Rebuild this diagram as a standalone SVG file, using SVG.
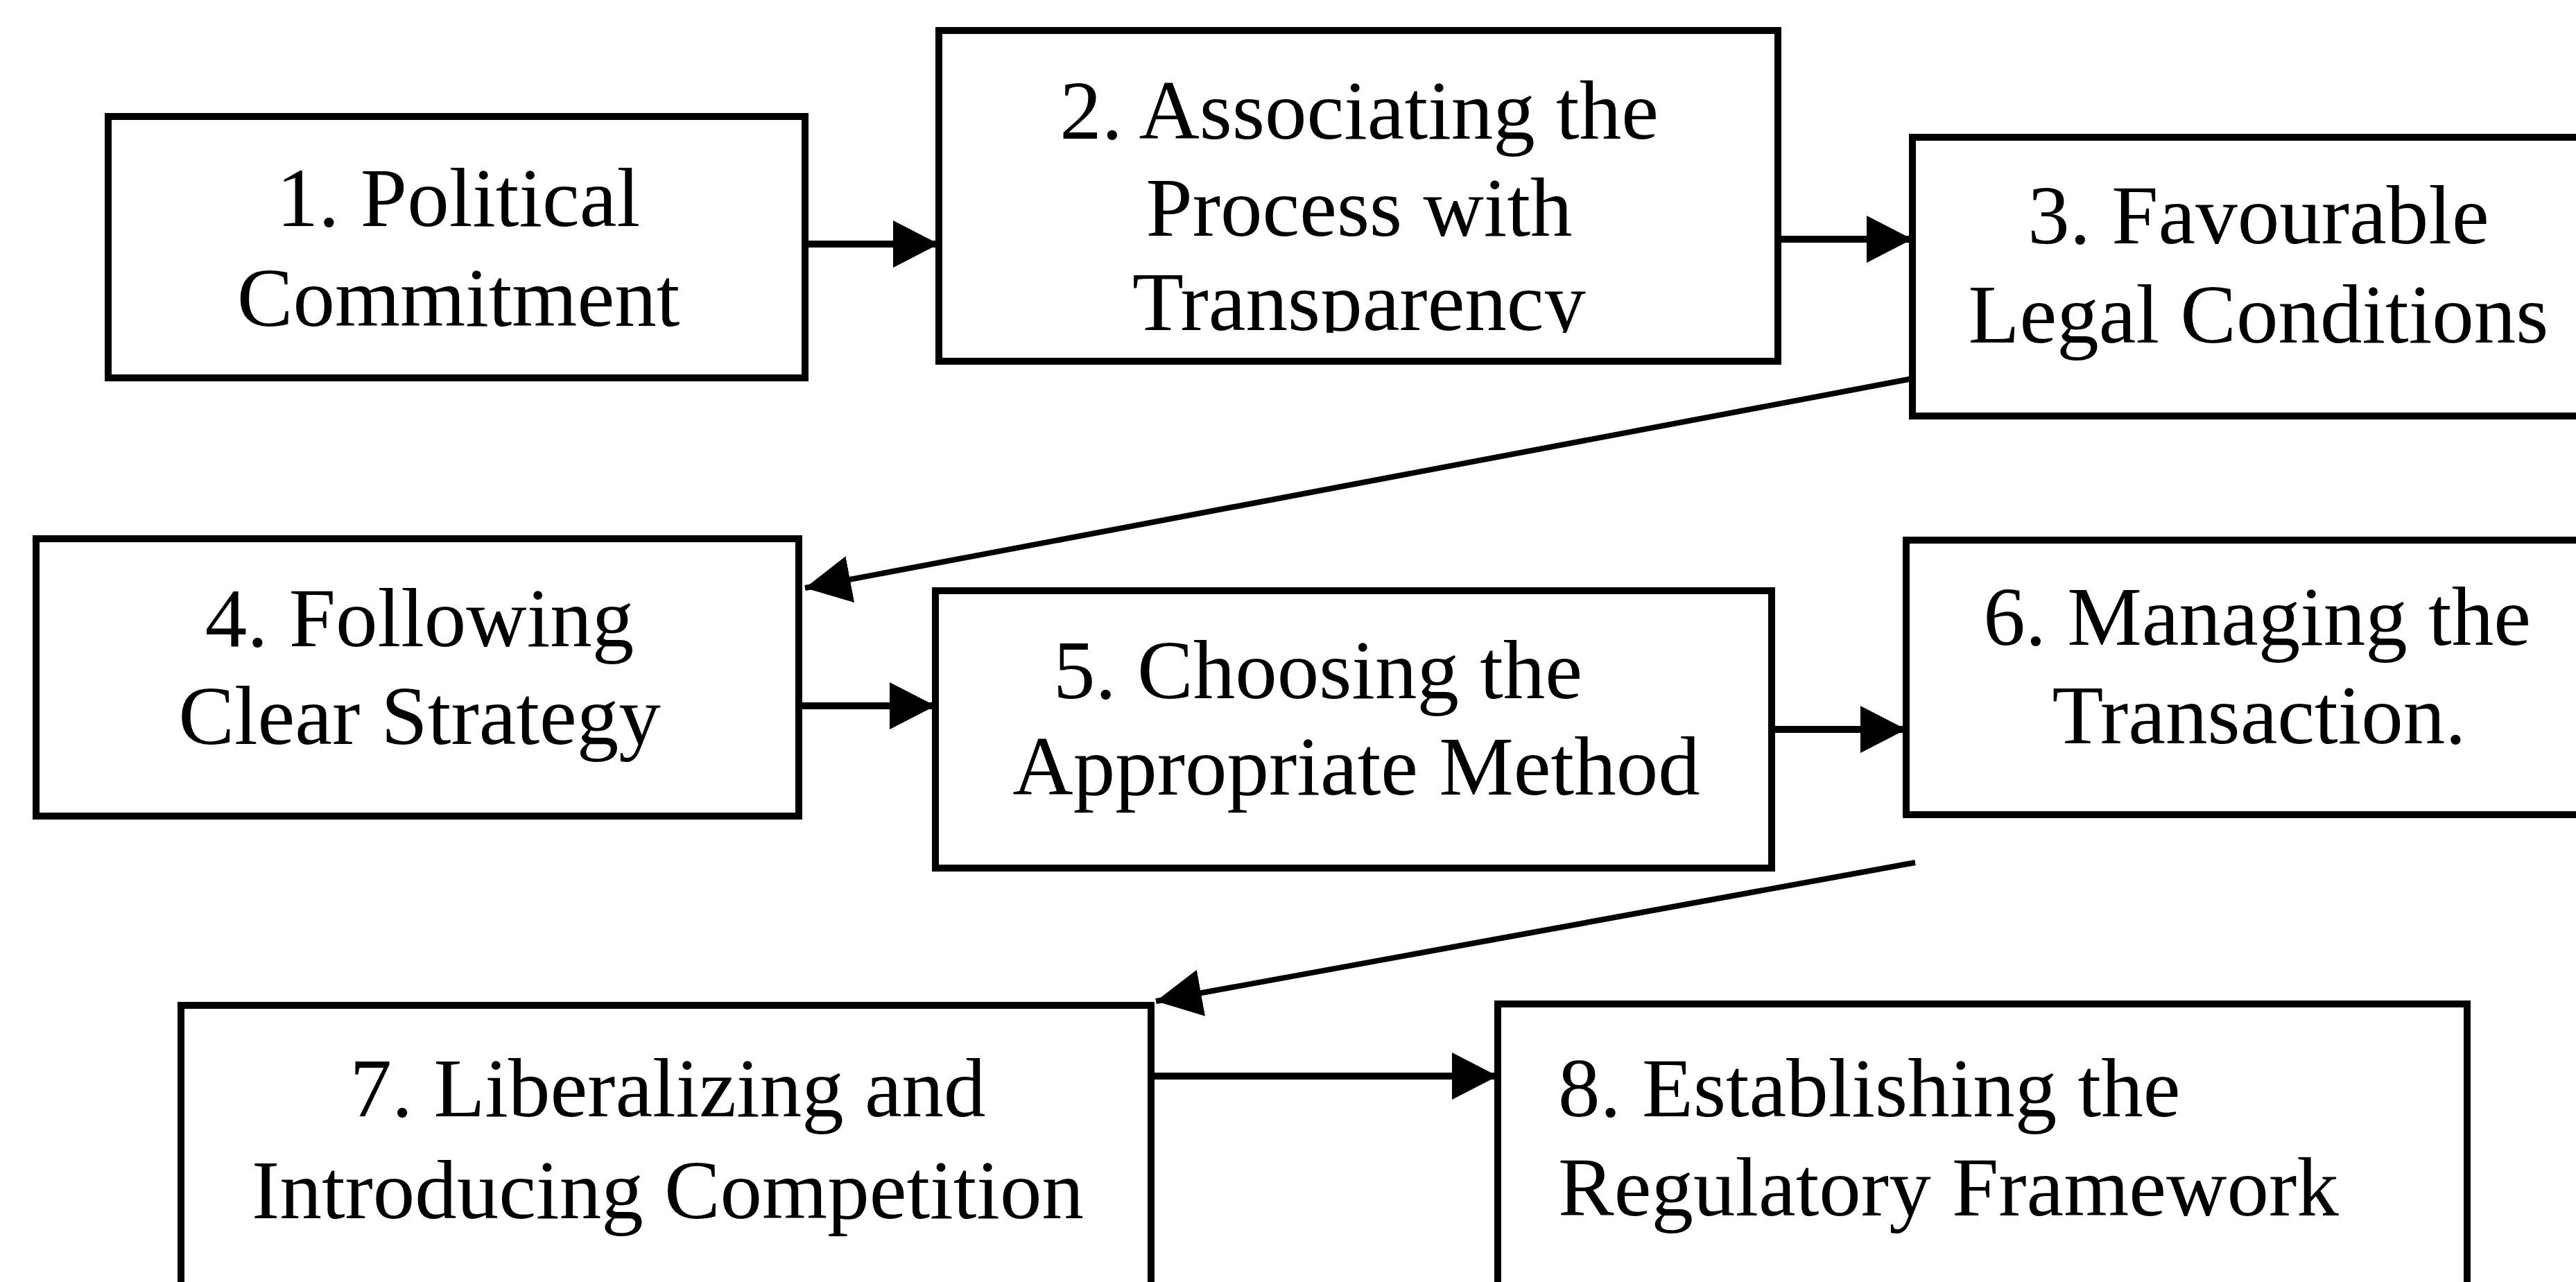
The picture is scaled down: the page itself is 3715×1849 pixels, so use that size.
<svg xmlns="http://www.w3.org/2000/svg" width="3715" height="1849" viewBox="0 0 3715 1849">
  <style>
    .box { fill: #ffffff; stroke: #000000; stroke-width: 10; }
    .lbl { font-family: "Liberation Serif", "Times New Roman", serif; font-size: 121px; fill: #000000; }
    .mid { text-anchor: middle; }
    .conn { stroke: #000000; stroke-width: 10; fill: none; marker-end: url(#head); }
  </style>
  <defs>
    <marker id="head" markerUnits="userSpaceOnUse" markerWidth="70" markerHeight="70" refX="66" refY="34" orient="auto">
      <path d="M0,0 L66,34 L0,68 Z" fill="#000000"/>
    </marker>
    <clipPath id="clip2">
      <rect x="1360" y="50" width="1198" height="430"/>
    </clipPath>
  </defs>
  <rect width="3715" height="1849" fill="#ffffff"/>

  <g id="connectors">
    <line class="conn" x1="1161" y1="352" x2="1354" y2="352"/>
    <line class="conn" x1="2564" y1="345" x2="2758" y2="345"/>
    <line class="conn" x1="2758" y1="546" x2="1161" y2="848" style="stroke-width:8"/>
    <line class="conn" x1="1152" y1="1018" x2="1349" y2="1018"/>
    <line class="conn" x1="2555" y1="1052" x2="2749" y2="1052"/>
    <line class="conn" x1="2762" y1="1244" x2="1667" y2="1444" style="stroke-width:8"/>
    <line class="conn" x1="1660" y1="1552" x2="2160" y2="1552"/>
  </g>

  <g id="node1">
    <rect class="box" x="156" y="168" width="1005" height="377"/>
    <text class="lbl mid" x="661" y="326">1. Political</text>
    <text class="lbl mid" x="661" y="470">Commitment</text>
  </g>

  <g id="node2">
    <rect class="box" x="1354" y="44" width="1210" height="477"/>
    <g clip-path="url(#clip2)">
      <text class="lbl mid" x="1960" y="200">2. Associating the</text>
      <text class="lbl mid" x="1960" y="340">Process with</text>
      <text class="lbl mid" x="1960" y="476">Transparency</text>
    </g>
  </g>

  <g id="node3">
    <rect class="box" x="2758" y="198" width="1000" height="402"/>
    <text class="lbl mid" x="3257" y="351">3. Favourable</text>
    <text class="lbl mid" x="3257" y="494">Legal Conditions</text>
  </g>

  <g id="node4">
    <rect class="box" x="52" y="777" width="1100" height="400"/>
    <text class="lbl mid" x="605" y="932">4. Following</text>
    <text class="lbl mid" x="605" y="1073">Clear Strategy</text>
  </g>

  <g id="node5">
    <rect class="box" x="1349" y="852" width="1206" height="400"/>
    <text class="lbl" x="1519" y="1007">5. Choosing the</text>
    <text class="lbl mid" x="1956" y="1146">Appropriate Method</text>
  </g>

  <g id="node6">
    <rect class="box" x="2749" y="779" width="1010" height="396"/>
    <text class="lbl mid" x="3255" y="930">6. Managing the</text>
    <text class="lbl mid" x="3258" y="1072">Transaction.</text>
  </g>

  <g id="node7">
    <rect class="box" x="261" y="1450" width="1399" height="500"/>
    <text class="lbl mid" x="963" y="1610">7. Liberalizing and</text>
    <text class="lbl mid" x="963" y="1757">Introducing Competition</text>
  </g>

  <g id="node8">
    <rect class="box" x="2160" y="1448" width="1398" height="500"/>
    <text class="lbl" x="2247" y="1610">8. Establishing the</text>
    <text class="lbl" x="2247" y="1753">Regulatory Framework</text>
  </g>
</svg>
